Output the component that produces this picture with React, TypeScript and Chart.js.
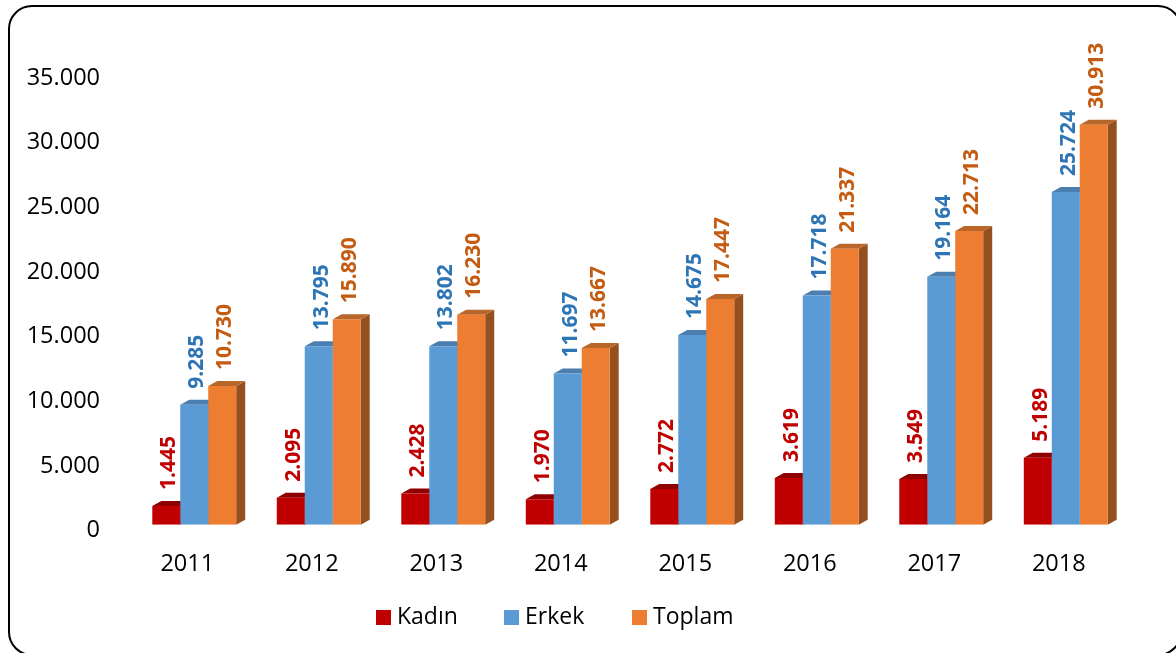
import React, { useEffect, useRef } from "react";
import { Chart, registerables } from "chart.js";

Chart.register(...registerables);

const years = ["2011", "2012", "2013", "2014", "2015", "2016", "2017", "2018"];
const kadin = [1445, 2095, 2428, 1970, 2772, 3619, 3549, 5189];
const erkek = [9285, 13795, 13802, 11697, 14675, 17718, 19164, 25724];
const toplam = [10730, 15890, 16230, 13667, 17447, 21337, 22713, 30913];

const FONT = '"Open Sans", "Noto Sans", sans-serif';
const DEPTH_X = 9;
const DEPTH_Y = 5;

const shades = [
  { top: "#8f0000", side: "#8f0000", text: "#C00000" },
  { top: "#4a7fb0", side: "#3f6f9e", text: "#2E75B6" },
  { top: "#b9662a", side: "#95501f", text: "#C55A11" },
];

const fmt = (v: number) => String(v).replace(/\B(?=(\d{3})+(?!\d))/g, ".");

const bars3d = {
  id: "bars3d",
  beforeDatasetsDraw(chart: any) {
    const { ctx } = chart;
    ctx.save();
    chart.data.datasets.forEach((_: any, i: number) => {
      chart.getDatasetMeta(i).data.forEach((bar: any) => {
        const l = bar.x - bar.width / 2;
        const r = bar.x + bar.width / 2;
        const t = bar.y;
        const b = bar.base;
        ctx.fillStyle = shades[i].side;
        ctx.beginPath();
        ctx.moveTo(r, t);
        ctx.lineTo(r + DEPTH_X, t - DEPTH_Y);
        ctx.lineTo(r + DEPTH_X, b - DEPTH_Y);
        ctx.lineTo(r, b);
        ctx.closePath();
        ctx.fill();
        ctx.fillStyle = shades[i].top;
        ctx.beginPath();
        ctx.moveTo(l, t);
        ctx.lineTo(l + DEPTH_X, t - DEPTH_Y);
        ctx.lineTo(r + DEPTH_X, t - DEPTH_Y);
        ctx.lineTo(r, t);
        ctx.closePath();
        ctx.fill();
      });
    });
    ctx.restore();
  },
  afterDatasetsDraw(chart: any) {
    const { ctx } = chart;
    ctx.save();
    ctx.font = `bold 21px ${FONT}`;
    ctx.textAlign = "left";
    ctx.textBaseline = "middle";
    chart.data.datasets.forEach((ds: any, i: number) => {
      chart.getDatasetMeta(i).data.forEach((bar: any, j: number) => {
        ctx.save();
        ctx.translate(bar.x + 3, bar.y - 16);
        ctx.rotate(-Math.PI / 2);
        ctx.fillStyle = shades[i].text;
        ctx.fillText(fmt(ds.data[j]), 0, 0);
        ctx.restore();
      });
    });
    ctx.restore();
  },
};

const legendRow = {
  id: "legendRow",
  afterDraw(chart: any) {
    const { ctx } = chart;
    ctx.save();
    ctx.font = `23px ${FONT}`;
    ctx.textAlign = "left";
    ctx.textBaseline = "middle";
    chart.data.datasets.forEach((ds: any, i: number) => {
      const x = 376 + i * 128;
      ctx.fillStyle = ds.backgroundColor;
      ctx.fillRect(x, 610, 15, 15);
      ctx.fillStyle = "#000";
      ctx.fillText(ds.label, x + 21, 617);
    });
    ctx.restore();
  },
};

export default function App() {
  const ref = useRef<HTMLCanvasElement>(null);
  useEffect(() => {
    const chart = new Chart(ref.current!, {
      type: "bar",
      data: {
        labels: years,
        datasets: [
          { label: "Kadın", data: kadin, backgroundColor: "#C00000" },
          { label: "Erkek", data: erkek, backgroundColor: "#5B9BD5" },
          { label: "Toplam", data: toplam, backgroundColor: "#ED7D31" },
        ],
      },
      plugins: [bars3d, legendRow],
      options: {
        animation: false,
        responsive: false,
        layout: { padding: { left: 0, right: 48, top: 72, bottom: 58 } },
        datasets: { bar: { categoryPercentage: 0.674, barPercentage: 1 } },
        plugins: {
          tooltip: { enabled: false },
          legend: { display: false },
        },
        scales: {
          x: {
            grid: { display: false },
            border: { display: false },
            ticks: { color: "#000", font: { family: FONT, size: 23.5 }, labelOffset: -7, padding: 17 },
          },
          y: {
            min: 0,
            max: 35000,
            grid: { display: false },
            border: { display: false },
            afterFit(scale: any) {
              scale.width = 132;
            },
            ticks: {
              stepSize: 5000,
              color: "#000",
              font: { family: FONT, size: 23.5 },
              labelOffset: 6,
              padding: 24,
              callback: (v: any) => fmt(Number(v)),
            },
          },
        },
      },
    } as any);
    return () => chart.destroy();
  }, []);
  return (
    <div style={{ position: "fixed", left: 0, top: 0, width: 1176, height: 653, background: "#fff", overflow: "hidden" }}>
      <div
        style={{
          position: "absolute",
          left: 8,
          top: 5,
          width: 1174,
          height: 651,
          border: "2px solid #000",
          borderRadius: 24,
          boxSizing: "border-box",
        }}
      />
      <canvas ref={ref} width={1176} height={653} style={{ position: "absolute", left: 0, top: 0, display: "block" }} />
    </div>
  );
}
